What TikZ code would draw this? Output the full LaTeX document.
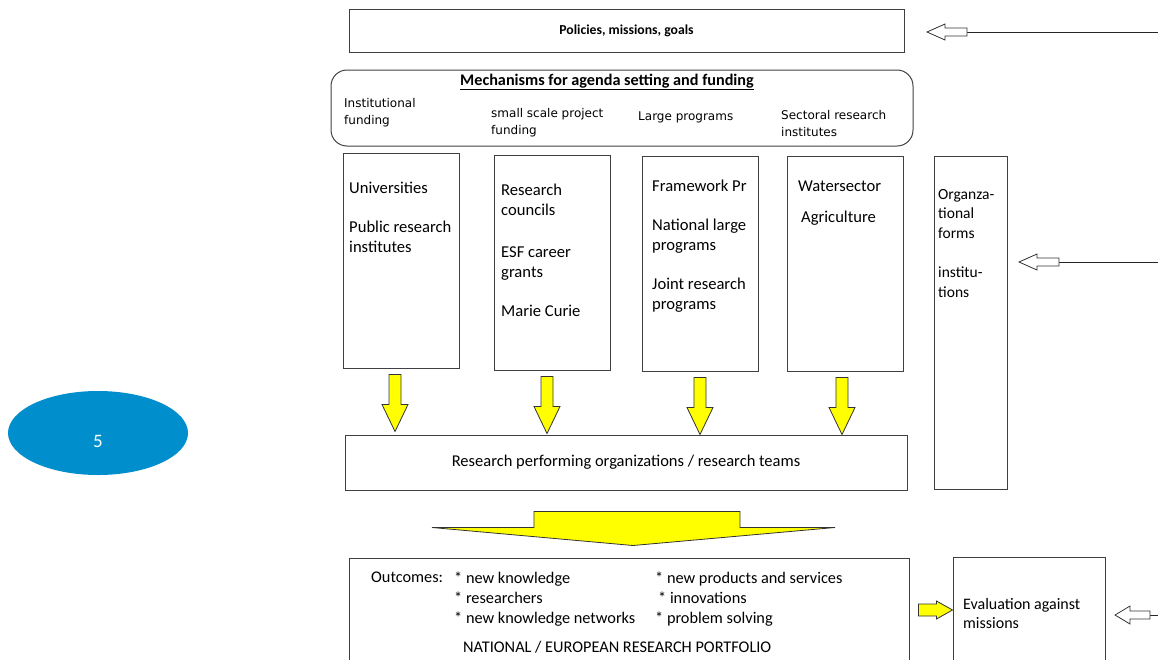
\documentclass[tikz,border=0pt]{standalone}
\usepackage{fontspec}
\setmainfont{Carlito}
\newfontfamily\labelfont{DejaVu Sans}
\usetikzlibrary{
    calc,
    shapes.geometric,
    positioning
}
\definecolor{circblue}{RGB}{0,142,204}
\definecolor{fundyellow}{RGB}{255,255,0}

\tikzset{
    box/.style={draw=black!75, line width=1pt, inner sep=0pt},
    boxtext/.style={anchor=north west, inner sep=0pt, align=left, font=\fontsize{16.6}{20}\selectfont},
    mechtext/.style={anchor=north west, inner sep=0pt, align=left, font=\labelfont\fontsize{12}{17}\selectfont},
    outtext/.style={anchor=north west, inner sep=0pt, align=left, font=\fontsize{16.3}{20}\selectfont},
    yarrow/.style={fill=fundyellow, draw=black!80, line width=0.8pt, line join=miter},
    harrow/.style={fill=white, draw=black!80, line width=0.8pt},
    feed/.style={draw=black!85, line width=0.8pt}
}

\begin{document}
\begin{tikzpicture}[x=1pt, y=-1pt]
                        \useasboundingbox (0,0) rectangle (1158,659);
                        \clip (0,0) rectangle (1158,659);

                        % number badge
                        \node[ellipse, fill=circblue, minimum width=180, minimum height=84] (badge) at (98,433) {};
                        \node[text=white, inner sep=0pt, font=\fontsize{19}{19}\selectfont] (badgenum) at (98,441) {5};

                        % policies
                        \node[box, minimum width=555, minimum height=43, font=\bfseries\fontsize{13.7}{15}\selectfont] (pol) at (626.5,30.5) {Policies, missions, goals};

                        % mechanisms
                        \node[box, rounded corners=16pt, minimum width=582, minimum height=76] (mech) at (622,108) {};
                        \node[inner sep=0pt, font=\bfseries\fontsize{16.2}{18}\selectfont] (mechtitle) at (607,82) {\underline{Mechanisms for agenda setting and funding}};
                        \node[mechtext] (minst) at (344,98) {Institutional\\funding};
                        \node[mechtext] (mproj) at (491,108) {small scale project\\funding};
                        \node[mechtext] (mlarge) at (638,112) {Large programs};
                        \node[mechtext] (msect) at (781,110) {Sectoral research\\institutes};

                        % funding columns
                        \node[box, minimum width=116, minimum height=215] (inst) at (401,260.5) {};
                        \node[box, minimum width=116, minimum height=215] (proj) at (552,262.5) {};
                        \node[box, minimum width=116, minimum height=215] (large) at (700,263.5) {};
                        \node[box, minimum width=116, minimum height=215] (sect) at (845,263.5) {};
                        \node[boxtext] (tinst) at (349,182) {Universities\\[19pt]Public research\\institutes};
                        \node[boxtext] (tproj) at (501,184) {Research\\councils\\[22pt]ESF career\\grants\\[19pt]Marie Curie};
                        \node[boxtext] (tlarge) at (652,180) {Framework Pr\\[19pt]National large\\programs\\[19pt]Joint research\\programs};
                        \node[boxtext] (tsect) at (798,181) {Watersector\\[11pt]\hspace*{3pt}Agriculture};

                        % organizational forms
                        \node[box, minimum width=73, minimum height=333] (org) at (970.5,322.5) {};
                        \node[boxtext, font=\fontsize{15.5}{19.5}\selectfont] (torg) at (938,189) {Organza-\\tional\\forms\\[20pt]institu-\\tions};

                        % performers
                        \node[box, minimum width=562, minimum height=55, font=\fontsize{16.5}{18}\selectfont] (rpo) at (626,462.5) {Research performing organizations / research teams};

                        % outcomes
                        \node[box, minimum width=560, minimum height=120] (out) at (629,618) {};
                        \node[outtext] (outlbl) at (371,572) {Outcomes:};
                        \node[outtext] (outleft) at (454,572) {* new knowledge\\* researchers\\* new knowledge networks};
                        \node[outtext] (outright) at (655,572) {* new products and services\\\hspace*{3pt}* innovations\\* problem solving};
                        \node[outtext] (portf) at (463,641) {NATIONAL / EUROPEAN RESEARCH PORTFOLIO};

                        % evaluation
                        \node[box, minimum width=152, minimum height=120] (eval) at (1029,617) {};
                        \node[outtext, font=\fontsize{16}{19}\selectfont] (teval) at (963,598) {Evaluation against\\missions};

                        % yellow flows
                        \foreach \b/\dx in {inst/-6, proj/-5, large/0, sect/-3}
                            \draw[yarrow] ($(\b.south)+(\dx,0)+(-6,6)$) -- ++(12,0) -- ++(0,30) -- ++(7,0)
                                -- ++(-13,27) -- ++(-13,-27) -- ++(7,0) -- cycle;
                        \draw[yarrow] ($(rpo.south)+(-92,21)$) -- ++(206,0) -- ++(0,16) -- ++(95,0)
                            -- ($(rpo.south)+(7,55)$) -- ($(rpo.south)+(-194,37)$) -- ++(102,0) -- cycle;
                        \draw[yarrow] ($(out.east)+(9,-14)$) -- ++(18,0) -- ++(0,-3) -- ++(16,9) -- ++(-16,9)
                            -- ++(0,-3) -- ++(-18,0) -- cycle;

                        % feedback from outside
                        \coordinate (polsrc) at (1158,32);
                        \coordinate (orgsrc) at (1158,262);
                        \coordinate (evalsrc) at (1158,615);
                        \coordinate (poltip) at (927,32);
                        \coordinate (orgtip) at (1019,262);
                        \coordinate (evaltip) at (1115,615);
                        \draw[feed] ($(poltip)+(40,0)$) -- (polsrc);
                        \draw[feed] ($(orgtip)+(40,0)$) -- (orgsrc);
                        \draw[feed] ($(evaltip)+(35,0)$) -- (evalsrc);
                        \draw[harrow] (poltip) -- ++(18,-8) -- ++(0,4) -- ++(22,0) -- ++(0,8) -- ++(-22,0) -- ++(0,4) -- cycle;
                        \draw[harrow] (orgtip) -- ++(18,-8) -- ++(0,4) -- ++(22,0) -- ++(0,8) -- ++(-22,0) -- ++(0,4) -- cycle;
                        \draw[harrow] (evaltip) -- ++(15,-9) -- ++(0,5) -- ++(20,0) -- ++(0,8) -- ++(-20,0) -- ++(0,5) -- cycle;
                    \end{tikzpicture}
\end{document}
